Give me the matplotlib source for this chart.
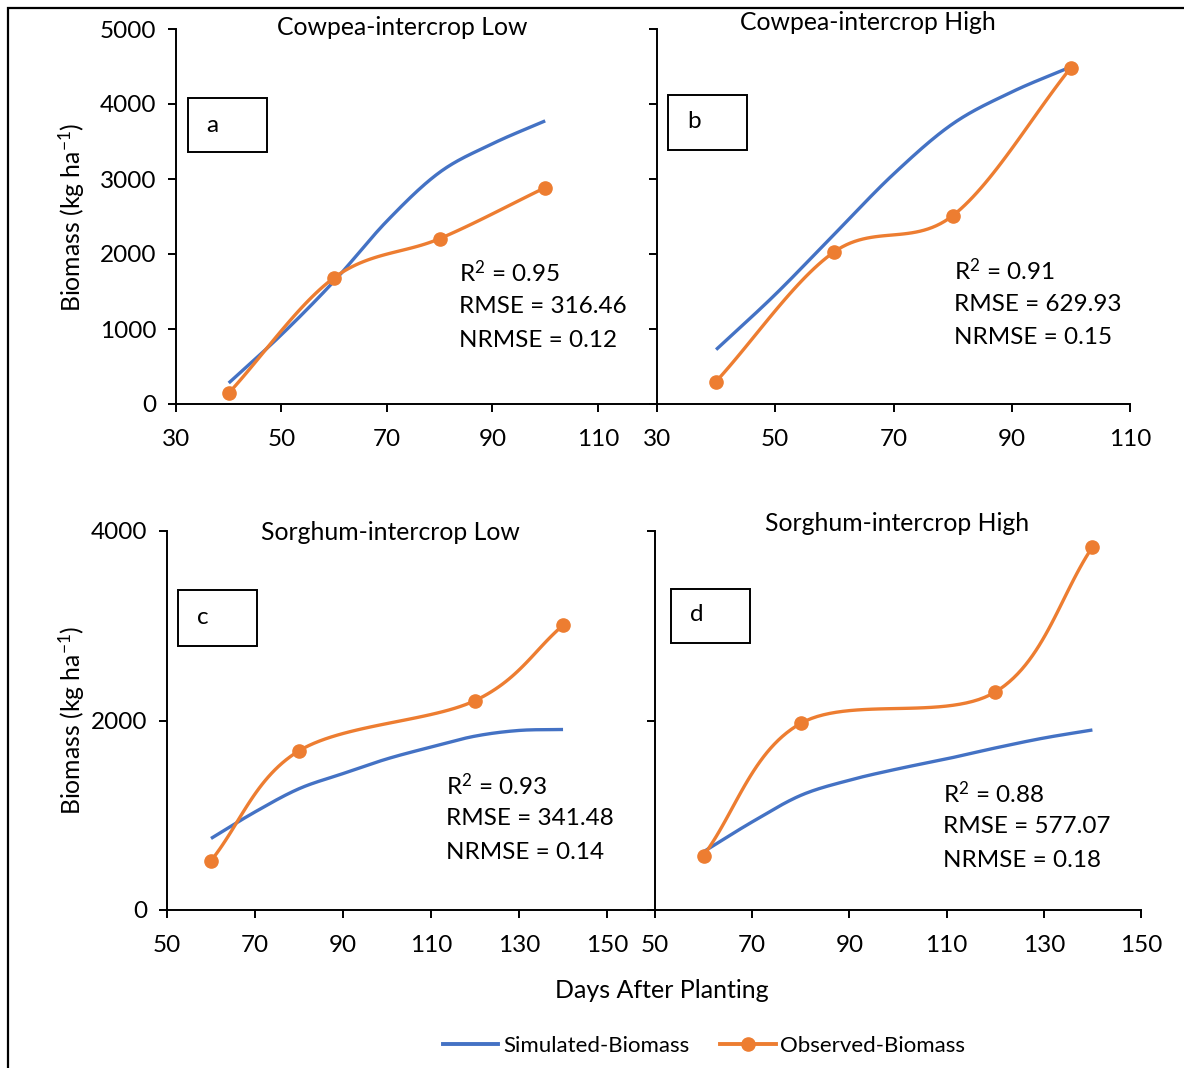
import numpy as np
import matplotlib.pyplot as plt
from matplotlib.patches import Rectangle

plt.rcParams['font.family'] = ['Lato', 'DejaVu Sans']
plt.rcParams['mathtext.fontset'] = 'custom'
plt.rcParams['mathtext.rm'] = 'Lato'
plt.rcParams['mathtext.it'] = 'Lato:italic'

BLUE = '#4472C4'
ORANGE = '#ED7D31'

# observed sampling days and biomass (kg/ha)
obs_days_cow = [40, 60, 80, 100]
obs_cow_low = [145, 1685, 2205, 2885]
obs_cow_high = [300, 2030, 2510, 4485]
obs_days_sor = [60, 80, 120, 140]
obs_sor_low = [520, 1680, 2210, 3005]
obs_sor_high = [575, 1970, 2300, 3830]

# simulated biomass, read every 10 days
sim_days_cow = [40, 50, 60, 70, 80, 90, 100]
sim_cow_low = [280, 925, 1640, 2440, 3090, 3470, 3775]
sim_cow_high = [725, 1460, 2265, 3065, 3735, 4160, 4495]
sim_days_sor = [60, 70, 80, 90, 100, 110, 120, 130, 140]
sim_sor_low = [755, 1035, 1280, 1440, 1595, 1720, 1835, 1895, 1905]
sim_sor_high = [615, 930, 1210, 1370, 1490, 1595, 1710, 1815, 1900]

titles = ['Cowpea-intercrop Low', 'Cowpea-intercrop High',
          'Sorghum-intercrop Low', 'Sorghum-intercrop High']
letters = ['a', 'b', 'c', 'd']
stats = [('0.95', '316.46', '0.12'), ('0.91', '629.93', '0.15'),
         ('0.93', '341.48', '0.14'), ('0.88', '577.07', '0.18')]


def smooth(x, y, n=30):
    # Catmull-Rom spline, similar to Excel's smoothed line
    x = np.asarray(x, float)
    y = np.asarray(y, float)
    px = np.concatenate([[2 * x[0] - x[1]], x, [2 * x[-1] - x[-2]]])
    py = np.concatenate([[2 * y[0] - y[1]], y, [2 * y[-1] - y[-2]]])
    xs, ys = [], []
    t = np.linspace(0, 1, n)
    for i in range(1, len(px) - 2):
        for p, out in ((px, xs), (py, ys)):
            p0, p1, p2, p3 = p[i - 1], p[i], p[i + 1], p[i + 2]
            out.append(0.5 * (2 * p1 + (-p0 + p2) * t
                              + (2 * p0 - 5 * p1 + 4 * p2 - p3) * t ** 2
                              + (-p0 + 3 * p1 - 3 * p2 + p3) * t ** 3))
    return np.concatenate(xs), np.concatenate(ys)


fig = plt.figure(figsize=(11.84, 10.68), dpi=100)
W, H = 1184, 1068


def add_ax(l, r, t, b):
    return fig.add_axes([l / W, 1 - b / H, (r - l) / W, (b - t) / H])


axes = [add_ax(176, 657, 29, 404), add_ax(657, 1130, 29, 404),
        add_ax(167, 655, 531, 910), add_ax(655, 1141, 531, 910)]

series = [(sim_days_cow, sim_cow_low, obs_days_cow, obs_cow_low),
          (sim_days_cow, sim_cow_high, obs_days_cow, obs_cow_high),
          (sim_days_sor, sim_sor_low, obs_days_sor, obs_sor_low),
          (sim_days_sor, sim_sor_high, obs_days_sor, obs_sor_high)]

xlims = [(30, 121.2), (30, 110), (50, 160.9), (50, 150)]
xticks = [range(30, 111, 20), range(30, 111, 20),
          range(50, 151, 20), range(50, 151, 20)]
title_pos = [(0.47, 1.005), (0.446, 1.016), (0.457, 0.997), (0.498, 1.021)]
box_pos = [(0.025, 0.672, 0.164, 0.144), (0.023, 0.677, 0.167, 0.147),
           (0.0225, 0.697, 0.162, 0.147), (0.033, 0.705, 0.163, 0.142)]
letter_pos = [(0.075, 0.744), (0.078, 0.752), (0.074, 0.771), (0.086, 0.779)]
stat_pos = [(0.588, 0.349), (0.628, 0.355), (0.572, 0.329), (0.593, 0.308)]

for i, ax in enumerate(axes):
    sx, sy, ox, oy = series[i]
    xs, ys = smooth(sx, sy)
    ax.plot(xs, ys, color=BLUE, lw=2.4, solid_capstyle='butt')
    xo, yo = smooth(ox, oy)
    ax.plot(xo, yo, color=ORANGE, lw=2.4)
    ax.plot(ox, oy, 'o', color=ORANGE, ms=9.5)

    ax.set_xlim(*xlims[i])
    ax.set_xticks(list(xticks[i]))
    if i < 2:
        ax.set_ylim(0, 5000)
        ax.set_yticks(range(0, 5001, 1000))
    else:
        ax.set_ylim(0, 4000)
        ax.set_yticks(range(0, 4001, 2000))
    for s in ['top', 'right']:
        ax.spines[s].set_visible(False)
    for s in ['left', 'bottom']:
        ax.spines[s].set_linewidth(1.4)
        ax.spines[s].set_color('black')
    ax.tick_params(direction='out', length=6, width=1.4, labelsize=17.5,
                   colors='black')
    ax.tick_params(axis='x', pad=12)
    ax.tick_params(axis='y', pad=8)
    if i in (1, 3):
        ax.tick_params(axis='y', labelleft=False)
    ax.patch.set_alpha(0)

    ax.text(*title_pos[i], titles[i], transform=ax.transAxes, ha='center',
            va='center', fontsize=17.8)
    bx, by, bw, bh = box_pos[i]
    ax.add_patch(Rectangle((bx, by), bw, bh, transform=ax.transAxes,
                           fill=False, ec='black', lw=1.4, clip_on=False))
    ax.text(*letter_pos[i], letters[i], transform=ax.transAxes, ha='center',
            va='center', fontsize=17.5)
    r2, rmse, nrmse = stats[i]
    tx, ty = stat_pos[i]
    step = 33.5 / (375 if i < 2 else 380)
    for k, line in enumerate(['R$^{2}$ = ' + r2, 'RMSE = ' + rmse,
                              'NRMSE = ' + nrmse]):
        ax.text(tx, ty - k * step, line, transform=ax.transAxes, ha='left',
                va='center', fontsize=17.5)

ylab = 'Biomass (kg ha$^{-1}$)'
fig.text(72 / W, 1 - 217 / H, ylab, rotation=90, ha='center', va='center',
         fontsize=17.8)
fig.text(72 / W, 1 - 720 / H, ylab, rotation=90, ha='center', va='center',
         fontsize=17.8)
fig.text(662 / W, 1 - 990 / H, 'Days After Planting', ha='center',
         va='center', fontsize=18)

h1, = axes[0].plot([], [], color=BLUE, lw=2.8)
h2, = axes[0].plot([], [], color=ORANGE, lw=2.8, marker='o', ms=9.5)
fig.legend([h1, h2], ['Simulated-Biomass', 'Observed-Biomass'], ncol=2,
           loc='center', bbox_to_anchor=(704 / W, 1 - 1046 / H),
           frameon=False, fontsize=16, handlelength=2.5,
           handletextpad=0.2, columnspacing=1.4)

# outer border (clipped at right and bottom like the source image)
fig.add_artist(Rectangle((7.5 / W, -0.1), 1.2, 1 - 7.5 / H + 0.1,
                         transform=fig.transFigure, fill=False,
                         ec='black', lw=1.6))

fig.savefig('out.png', dpi=100)
